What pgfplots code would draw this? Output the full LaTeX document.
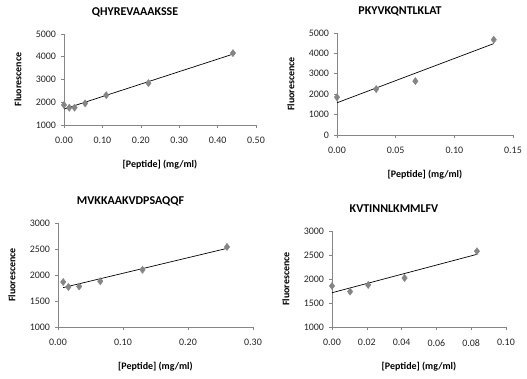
\documentclass[border=0pt]{standalone}
\usepackage{pgfplots}
\pgfplotsset{compat=1.18}
\usepackage{fontspec}
\setmainfont{Carlito}
\definecolor{axisgray}{HTML}{868686}
\definecolor{markgray}{HTML}{858585}
\pgfplotsset{
  every axis title shift=0pt,
  panel/.style n args={2}{
    scale only axis, width=#1bp, height=#2bp,
    anchor=south west,
    axis lines=left, axis line style={-, draw=axisgray, line width=0.6pt},
    tick align=outside, major tick length=3bp,
    tick style={draw=axisgray, line width=0.6pt},
    ticklabel style={font=\fontsize{10}{12}\selectfont, text=black!85},
    /pgf/number format/assume math mode=true,
    scaled ticks=false,
    yticklabel style={xshift=-1.5bp, /pgf/number format/.cd, fixed, 1000 sep={}},
    xticklabel style={yshift=-6bp, /pgf/number format/.cd, fixed, fixed zerofill, precision=2},
    title style={at={(rel axis cs:0.5,1)}, anchor=center, xshift=-25bp, yshift=22bp, font=\bfseries\fontsize{12}{14}\selectfont},
    xlabel style={at={(rel axis cs:0.5,0)}, anchor=center, yshift=-40bp, font=\bfseries\fontsize{10}{12}\selectfont},
    ylabel style={at={(rel axis cs:0,0.5)}, anchor=center, yshift=46bp, font=\bfseries\fontsize{10}{12}\selectfont},
    xlabel={[Peptide] (mg/ml)}, ylabel={Fluorescence},
    clip=false,
  },
  pts/.style={only marks, mark=diamond*, mark size=3.6bp, mark options={fill=markgray, draw=markgray}},
  trend/.style={no marks, black, line width=0.7pt},
}
\begin{document}
\begin{tikzpicture}
\useasboundingbox (0bp,0bp) rectangle (527bp,379bp);
% Panel 1
\begin{axis}[panel={192}{91}, at={(64bp,254bp)},
  title={QHYREVAAAKSSE},
  xmin=0, xmax=0.5, ymin=1000, ymax=5000,
  xtick={0,0.1,0.2,0.3,0.4,0.5}, ytick={1000,2000,3000,4000,5000}]
\addplot[pts] coordinates {(0,1880) (0.01375,1760) (0.0275,1760) (0.055,1950) (0.11,2310) (0.22,2840) (0.44,4160)};
\addplot[trend] coordinates {(0,1701) (0.44,4114)};
\end{axis}
% Panel 2
\begin{axis}[panel={176}{102}, at={(337bp,244bp)},
  title={PKYVKQNTLKLAT},
  xmin=0, xmax=0.15, ymin=0, ymax=5000,
  xtick={0,0.05,0.1,0.15}, ytick={0,1000,2000,3000,4000,5000}]
\addplot[pts] coordinates {(0,1850) (0.0334,2250) (0.0668,2640) (0.1336,4670)};
\addplot[trend] coordinates {(0,1580) (0.1336,4480)};
\end{axis}
% Panel 3
\begin{axis}[panel={195}{104}, at={(58bp,52bp)},
  title={MVKKAAKVDPSAQQF},
  xmin=0, xmax=0.3, ymin=1000, ymax=3000,
  xtick={0,0.1,0.2,0.3}, ytick={1000,1500,2000,2500,3000}]
\addplot[pts] coordinates {(0.008,1865) (0.016,1770) (0.0325,1780) (0.065,1880) (0.13,2100) (0.26,2540)};
\addplot[trend] coordinates {(0.008,1758) (0.26,2512)};
\end{axis}
% Panel 4
\begin{axis}[panel={174}{96}, at={(332bp,52bp)},
  title={KVTINNLKMMLFV},
  xmin=0, xmax=0.1, ymin=1000, ymax=3000,
  xtick={0,0.02,0.04,0.06,0.08,0.1}, ytick={1000,1500,2000,2500,3000}]
\addplot[pts] coordinates {(0,1855) (0.0104,1738) (0.0208,1876) (0.0417,2021) (0.0833,2579)};
\addplot[trend] coordinates {(0,1714) (0.0833,2514)};
\end{axis}
\end{tikzpicture}
\end{document}
